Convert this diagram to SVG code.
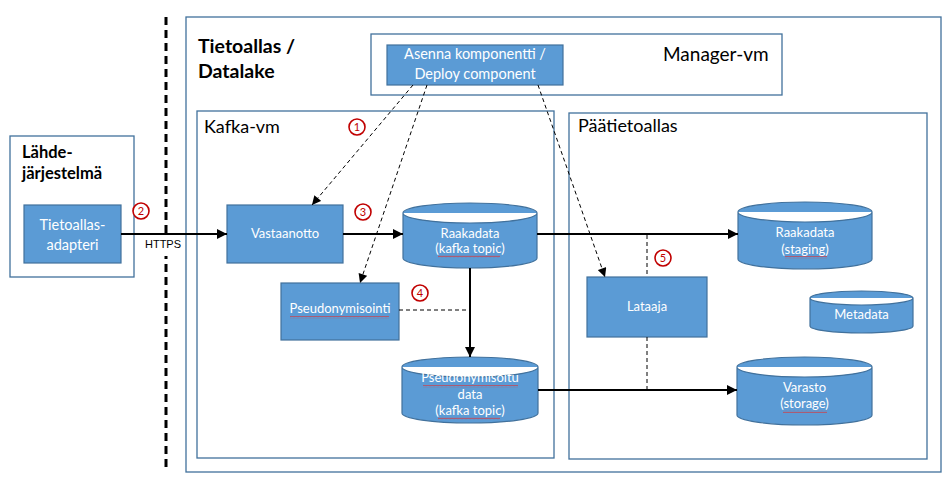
<svg xmlns="http://www.w3.org/2000/svg" width="946" height="484" viewBox="0 0 946 484">
<style>
.cont{fill:#fff;stroke:#41719c;stroke-width:1.3}
.box{fill:#5b9bd5;stroke:#41719c;stroke-width:1.2}
.t{font-family:Lato,"Open Sans",sans-serif;font-size:13px;fill:#fff;text-anchor:middle}
.t2{font-size:14.5px}
.lbl{font-family:Lato,"Open Sans",sans-serif;font-size:18px;fill:#000}
.bt{font-family:Lato,"Open Sans",sans-serif;font-size:16.5px;font-weight:bold;fill:#000}
.bt2{font-size:19.5px}
.ln{stroke:#000;stroke-width:2;fill:none}
.dl{stroke:#000;stroke-width:1;stroke-dasharray:4 3;fill:none}
.num circle{fill:#fff;stroke:#c00000;stroke-width:1.6}
.num text{font-family:Lato,"Open Sans",sans-serif;font-size:11px;fill:#c00000;text-anchor:middle}
.sq{fill:url(#wave)}
</style>
<defs>
<marker id="ah" viewBox="0 0 10 10" refX="10" refY="5" markerWidth="11" markerHeight="10" markerUnits="userSpaceOnUse" orient="auto"><path d="M0,0 L10,5 L0,10 z" fill="#000"/></marker>
<marker id="ahs" viewBox="0 0 10 10" refX="10" refY="5" markerWidth="10" markerHeight="9" markerUnits="userSpaceOnUse" orient="auto"><path d="M0,0 L10,5 L0,10 z" fill="#000"/></marker>
<pattern id="wave" width="4" height="3" patternUnits="userSpaceOnUse"><path d="M0,2.2 L1,0.8 L2,2.2 L3,0.8 L4,2.2" stroke="#e03030" stroke-width="0.6" fill="none"/></pattern>
</defs>
<rect width="946" height="484" fill="#fff"/>

<line x1="166" y1="17" x2="166" y2="471" stroke="#000" stroke-width="3" stroke-dasharray="8 5"/>

<g id="lahde">
<rect class="cont" x="10" y="136" width="124" height="141"/>
<text class="bt" x="22" y="158">Lähde-</text>
<text class="bt" x="22" y="179">järjestelmä</text>
</g>

<g id="datalake">
<rect class="cont" x="186" y="17" width="755" height="455"/>
<text class="bt bt2" x="198" y="53">Tietoallas /</text>
<text class="bt bt2" x="198" y="78">Datalake</text>
</g>

<g id="manager">
<rect class="cont" x="371" y="34" width="411" height="61"/>
<text class="lbl" x="663" y="61" style="font-size:19px">Manager-vm</text>
</g>

<g id="kafka">
<rect class="cont" x="197" y="111" width="357" height="347"/>
<text class="lbl" x="204" y="133">Kafka-vm</text>
</g>

<g id="paatietoallas">
<rect class="cont" x="569" y="113" width="358" height="346"/>
<text class="lbl" x="578" y="132">Päätietoallas</text>
</g>

<g id="asenna">
<rect class="box" x="387" y="45" width="176" height="40"/>
<text class="t t2" x="475" y="59">Asenna komponentti /</text>
<text class="t t2" x="475" y="79">Deploy component</text>
</g>

<g id="adapteri">
<rect class="box" x="24" y="205" width="97" height="58"/>
<text class="t t2" x="72.5" y="230">Tietoallas-</text>
<text class="t t2" x="72.5" y="250">adapteri</text>
</g>

<g id="vastaanotto">
<rect class="box" x="227" y="205" width="116" height="58"/>
<text class="t" x="285" y="238">Vastaanotto</text>
</g>

<g id="raakadata">
<path class="box" d="M403,213 a67,10 0 0 1 134,0 v45 a67,10 0 0 1 -134,0 z M403,213 a67,10 0 0 0 134,0"/>
<text class="t" x="470" y="238">Raakadata</text>
<text class="t" x="470" y="253">(kafka topic)</text>
<rect class="sq" x="438" y="255" width="62" height="3"/>
</g>

<g id="pseudonymisointi">
<rect class="box" x="281" y="283" width="118" height="57"/>
<text class="t" x="340" y="313">Pseudonymisointi</text>
<rect class="sq" x="290" y="316" width="99" height="3"/>
</g>

<g id="pseudodata">
<path class="box" d="M402,367 a68,10 0 0 1 136,0 v46 a68,10 0 0 1 -136,0 z M402,367 a68,10 0 0 0 136,0"/>
<text class="t" x="470" y="382">Pseudonymisoitu</text>
<text class="t" x="470" y="399">data</text>
<text class="t" x="470" y="415">(kafka topic)</text>
<rect class="sq" x="423" y="385" width="95" height="3"/>
<rect class="sq" x="438" y="417" width="62" height="3"/>
</g>

<g id="lataaja">
<rect class="box" x="587" y="277" width="120" height="60"/>
<text class="t" x="647" y="311">Lataaja</text>
</g>

<g id="staging">
<path class="box" d="M738,212 a67,10 0 0 1 134,0 v47 a67,10 0 0 1 -134,0 z M738,212 a67,10 0 0 0 134,0"/>
<text class="t" x="805" y="237">Raakadata</text>
<text class="t" x="805" y="254">(staging)</text>
<rect class="sq" x="785" y="256" width="42" height="3"/>
</g>

<g id="metadata">
<path class="box" d="M810,298 a51.5,7 0 0 1 103,0 v28 a51.5,7 0 0 1 -103,0 z M810,298 a51.5,7 0 0 0 103,0"/>
<text class="t" x="861.5" y="319">Metadata</text>
</g>

<g id="varasto">
<path class="box" d="M737,367 a67.5,10 0 0 1 135,0 v48 a67.5,10 0 0 1 -135,0 z M737,367 a67.5,10 0 0 0 135,0"/>
<text class="t" x="804.5" y="392">Varasto</text>
<text class="t" x="804.5" y="408">(storage)</text>
<rect class="sq" x="783" y="410" width="44" height="3"/>
</g>

<g id="connectors">
<rect x="141" y="237" width="44" height="19" fill="#fff"/>
<text x="163" y="248" font-family="'Liberation Sans',Arial,sans-serif" font-size="11" text-anchor="middle" fill="#000">HTTPS</text>
<line class="ln" x1="121" y1="234" x2="227" y2="234" marker-end="url(#ah)"/>
<line class="ln" x1="343" y1="234" x2="403" y2="234" marker-end="url(#ah)"/>
<line class="ln" x1="537" y1="234" x2="738" y2="234" marker-end="url(#ah)"/>
<line class="ln" x1="470" y1="268" x2="470" y2="357" marker-end="url(#ah)"/>
<line class="ln" x1="538" y1="390" x2="737" y2="390" marker-end="url(#ah)"/>
<line class="dl" x1="399" y1="310" x2="470" y2="310"/>
<line class="dl" x1="647" y1="235" x2="647" y2="277"/>
<line class="dl" x1="647" y1="337" x2="647" y2="389"/>
<line class="dl" x1="413" y1="85" x2="312" y2="205" marker-end="url(#ahs)"/>
<line class="dl" x1="427" y1="85" x2="360" y2="283" marker-end="url(#ahs)"/>
<line class="dl" x1="538" y1="85" x2="605" y2="277" marker-end="url(#ahs)"/>
</g>

<g id="numbers" class="num">
<circle cx="357" cy="127" r="8"/><text x="357" y="131">1</text>
<circle cx="141" cy="211" r="8"/><text x="141" y="215">2</text>
<circle cx="363" cy="212" r="8"/><text x="363" y="216">3</text>
<circle cx="420" cy="293" r="8"/><text x="420" y="297">4</text>
<circle cx="663" cy="258" r="8"/><text x="663" y="262">5</text>
</g>
</svg>
